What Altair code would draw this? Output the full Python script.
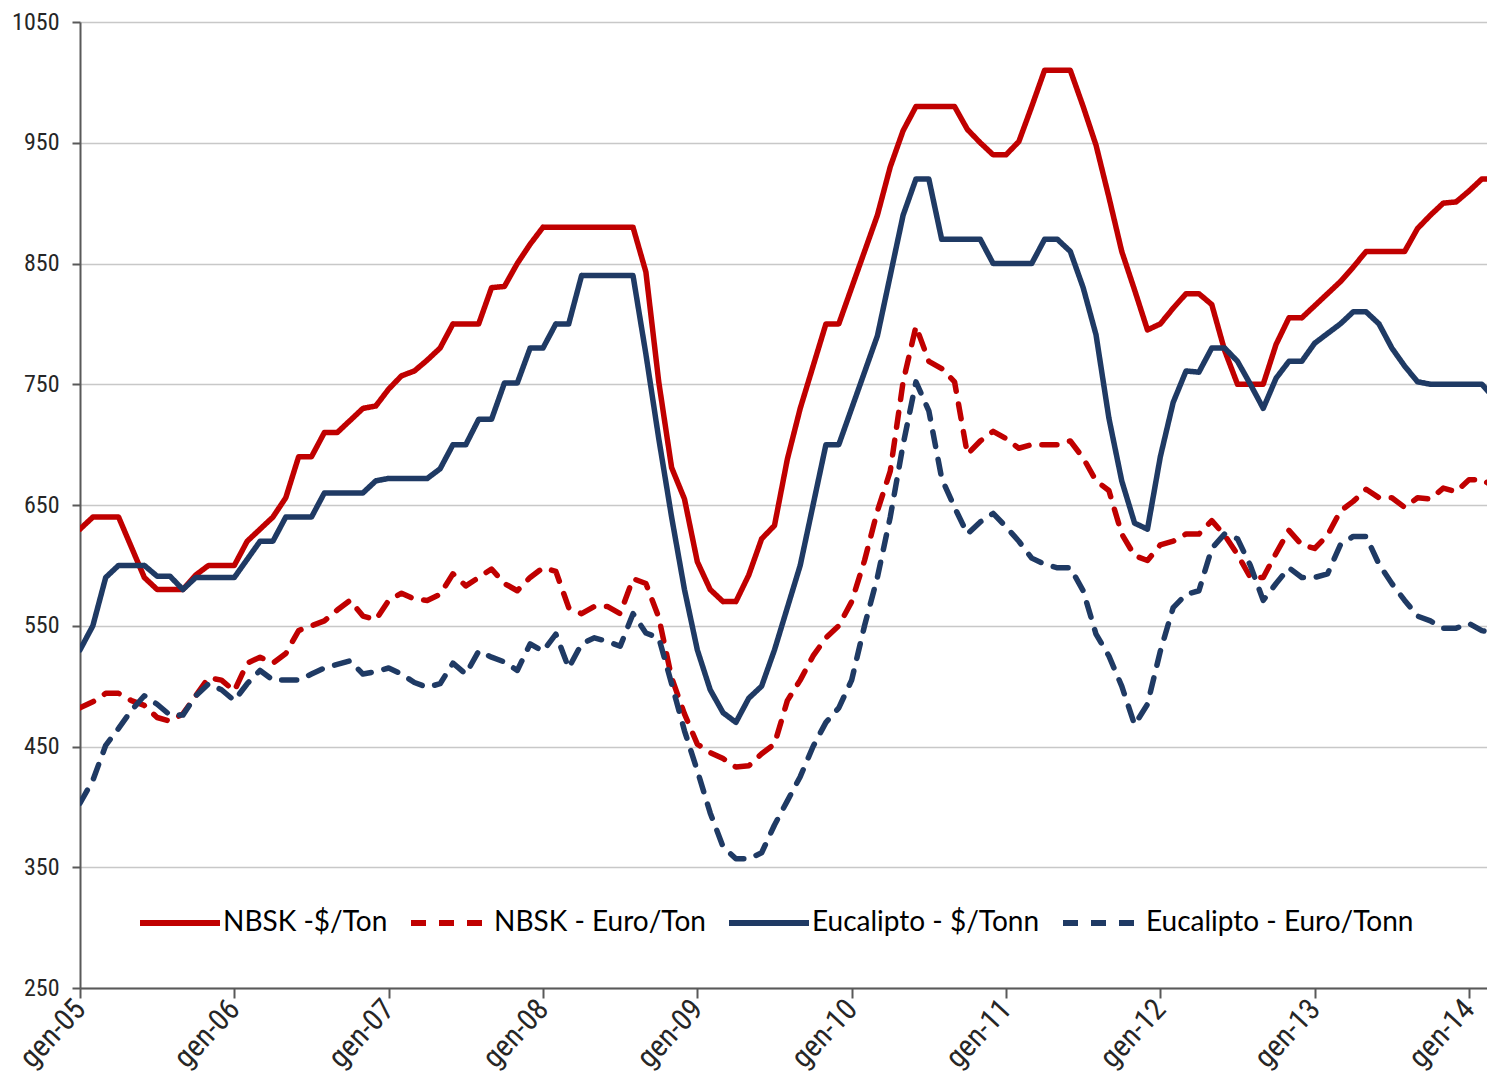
import altair as alt
import pandas as pd

# ---------------- data (monthly, Jan 2005 .. Mar 2014) ----------------
years = ["2005", "2006", "2007", "2008", "2009", "2010", "2011", "2012", "2013", "2014"]
month_codes = ["01", "02", "03", "04", "05", "06", "07", "08", "09", "10", "11", "12"]
months = [f"{y}-{m}" for y in years for m in month_codes][:111]

series_names = ["NBSK -$/Ton", "NBSK - Euro/Ton", "Eucalipto - $/Tonn", "Eucalipto - Euro/Tonn"]
series_colors = ["#C00000", "#C00000", "#1F3A64", "#1F3A64"]

nbsk_usd = [
    630, 640, 640, 640, 615, 590, 580, 580, 580, 592, 600, 600,
    600, 620, 630, 640, 656, 690, 690, 710, 710, 720, 730, 732,
    746, 757, 761, 770, 780, 800, 800, 800, 830, 831, 850, 866,
    880, 880, 880, 880, 880, 880, 880, 880, 843, 752, 681, 655,
    603, 580, 570, 570, 592, 622, 633, 688, 730, 765, 800, 800,
    830, 860, 890, 930, 960, 980, 980, 980, 980, 961, 950, 940,
    940, 951, 980, 1010, 1010, 1010, 980, 948, 905, 860, 828, 795,
    800, 813, 825, 825, 816, 778, 750, 750, 750, 783, 805, 805,
    815, 825, 835, 847, 860, 860, 860, 860, 879, 890, 900, 901,
    910, 920, 920,
]

nbsk_eur = [
    482, 487, 494, 494, 488, 484, 474, 471, 477, 492, 507, 505,
    496, 519, 524, 519, 527, 546, 550, 554, 563, 571, 558, 555,
    571, 577, 572, 571, 576, 593, 583, 590, 597, 585, 579, 590,
    598, 595, 565, 560, 566, 566, 560, 589, 585, 557, 507, 477,
    452, 445, 440, 433, 434, 444, 452, 488, 505, 525, 540, 550,
    570, 604, 645, 678, 752, 798, 769, 763, 752, 692, 703, 711,
    705, 697, 700, 700, 700, 703, 689, 670, 662, 626, 608, 604,
    617, 620, 626, 626, 637, 625, 609, 590, 590, 610, 629, 617,
    614, 625, 645, 653, 663, 656, 656, 648, 656, 655, 664, 661,
    671, 671, 665,
]

euc_usd = [
    530, 550, 590, 600, 600, 600, 591, 591, 580, 590, 590, 590,
    590, 605, 620, 620, 640, 640, 640, 660, 660, 660, 660, 670,
    672, 672, 672, 672, 680, 700, 700, 721, 721, 751, 751, 780,
    780, 800, 800, 840, 840, 840, 840, 840, 775, 705, 640, 580,
    530, 497, 478, 470, 490, 500, 530, 565, 600, 650, 700, 700,
    730, 760, 790, 840, 890, 920, 920, 870, 870, 870, 870, 850,
    850, 850, 850, 870, 870, 860, 830, 791, 722, 670, 635, 630,
    690, 735, 761, 760, 780, 780, 769, 750, 730, 755, 769, 769,
    784, 792, 800, 810, 810, 800, 780, 765, 752, 750, 750, 750,
    750, 750, 738,
]

euc_eur = [
    403, 422, 451, 465, 480, 492, 485, 476, 476, 492, 502, 497,
    488, 502, 513, 505, 505, 505, 510, 515, 518, 521, 510, 512,
    515, 510, 503, 499, 502, 519, 510, 529, 524, 520, 513, 535,
    529, 543, 515, 535, 540, 537, 533, 560, 544, 540, 502, 463,
    430, 395, 367, 357, 357, 362, 385, 405, 425, 450, 470, 482,
    505, 550, 590, 640, 700, 752, 728, 672, 648, 626, 636, 643,
    632, 620, 606, 601, 598, 598, 579, 543, 525, 500, 468, 485,
    529, 565, 576, 579, 614, 626, 622, 600, 571, 585, 598, 590,
    590, 593, 617, 624, 624, 601, 585, 571, 558, 554, 548, 548,
    552, 546, 544,
]

x_tick_labels = ["gen-05", "gen-06", "gen-07", "gen-08", "gen-09",
                 "gen-10", "gen-11", "gen-12", "gen-13", "gen-14"]
y_ticks = [250, 350, 450, 550, 650, 750, 850, 950, 1050]

# ---------------- long table ----------------
rows = []
for name, vals in zip(series_names, [nbsk_usd, nbsk_eur, euc_usd, euc_eur]):
    for i, (m, v) in enumerate(zip(months, vals)):
        rows.append({"t": i, "month": m, "v": v, "series": name})
df = pd.DataFrame(rows)

x_tick_values = [12 * k for k in range(len(x_tick_labels))]
label_expr = "[" + ",".join(f"'{s}'" for s in x_tick_labels) + "][round(datum.value / 12)]"

AXIS_FONT = ("Liberation Sans Narrow, Arial Narrow, Roboto Condensed, Noto Sans Condensed, "
             "DejaVu Sans Condensed, Liberation Sans, sans-serif")
LEG_FONT = "Lato, Open Sans, sans-serif"

dash_range = [[1, 0], [15, 13], [1, 0], [15, 13]]

legend = alt.Legend(
    title=None,
    orient="none",
    legendX=57,
    legendY=858,
    direction="horizontal",
    columns=4,
    symbolType="stroke",
    symbolSize=6400,
    symbolStrokeWidth=6,
    labelFont=LEG_FONT,
    labelFontSize=28,
    labelColor="#000000",
    labelLimit=500,
    labelOffset=0,
    columnPadding=11,
)

chart = (
    alt.Chart(df)
    .mark_line(strokeWidth=5.5, strokeCap="round", strokeJoin="round", clip=True)
    .encode(
        x=alt.X(
            "t:Q",
            scale=alt.Scale(domain=[0, 109.4], nice=False, zero=False),
            axis=alt.Axis(
                values=x_tick_values,
                labelExpr=label_expr,
                title=None,
                grid=False,
                labelAngle=-47,
                labelAlign="right",
                labelBaseline="middle",
                labelPadding=6,
                labelFont=AXIS_FONT,
                labelFontSize=30,
                labelColor="#262626",
                tickSize=10,
                tickWidth=2,
                tickColor="#595959",
                domainColor="#595959",
                domainWidth=2,
                labelFlush=False,
                labelOverlap=False,
            ),
        ),
        y=alt.Y(
            "v:Q",
            scale=alt.Scale(domain=[250, 1050], nice=False, zero=False),
            axis=alt.Axis(
                values=y_ticks,
                format="d",
                title=None,
                grid=True,
                gridColor="#C8C8C8",
                gridWidth=1.5,
                labelFont=AXIS_FONT,
                labelFontSize=24,
                labelColor="#262626",
                labelPadding=13,
                tickSize=8,
                tickWidth=2,
                tickColor="#595959",
                domainColor="#595959",
                domainWidth=2,
                labelFlush=False,
                labelOverlap=False,
            ),
        ),
        color=alt.Color(
            "series:N",
            scale=alt.Scale(domain=series_names, range=series_colors),
            legend=legend,
        ),
        strokeDash=alt.StrokeDash(
            "series:N",
            scale=alt.Scale(domain=series_names, range=dash_range),
            legend=legend,
        ),
        detail="series:N",
    )
    .properties(
        width=1407,
        height=966,
        autosize=alt.AutoSizeParams(type="none"),
        padding={"left": 72, "top": 14, "right": 0, "bottom": 86},
        background="white",
    )
    .configure_view(stroke=None)
)

chart.save("out.html", embed_options={"renderer": "svg", "actions": False})
